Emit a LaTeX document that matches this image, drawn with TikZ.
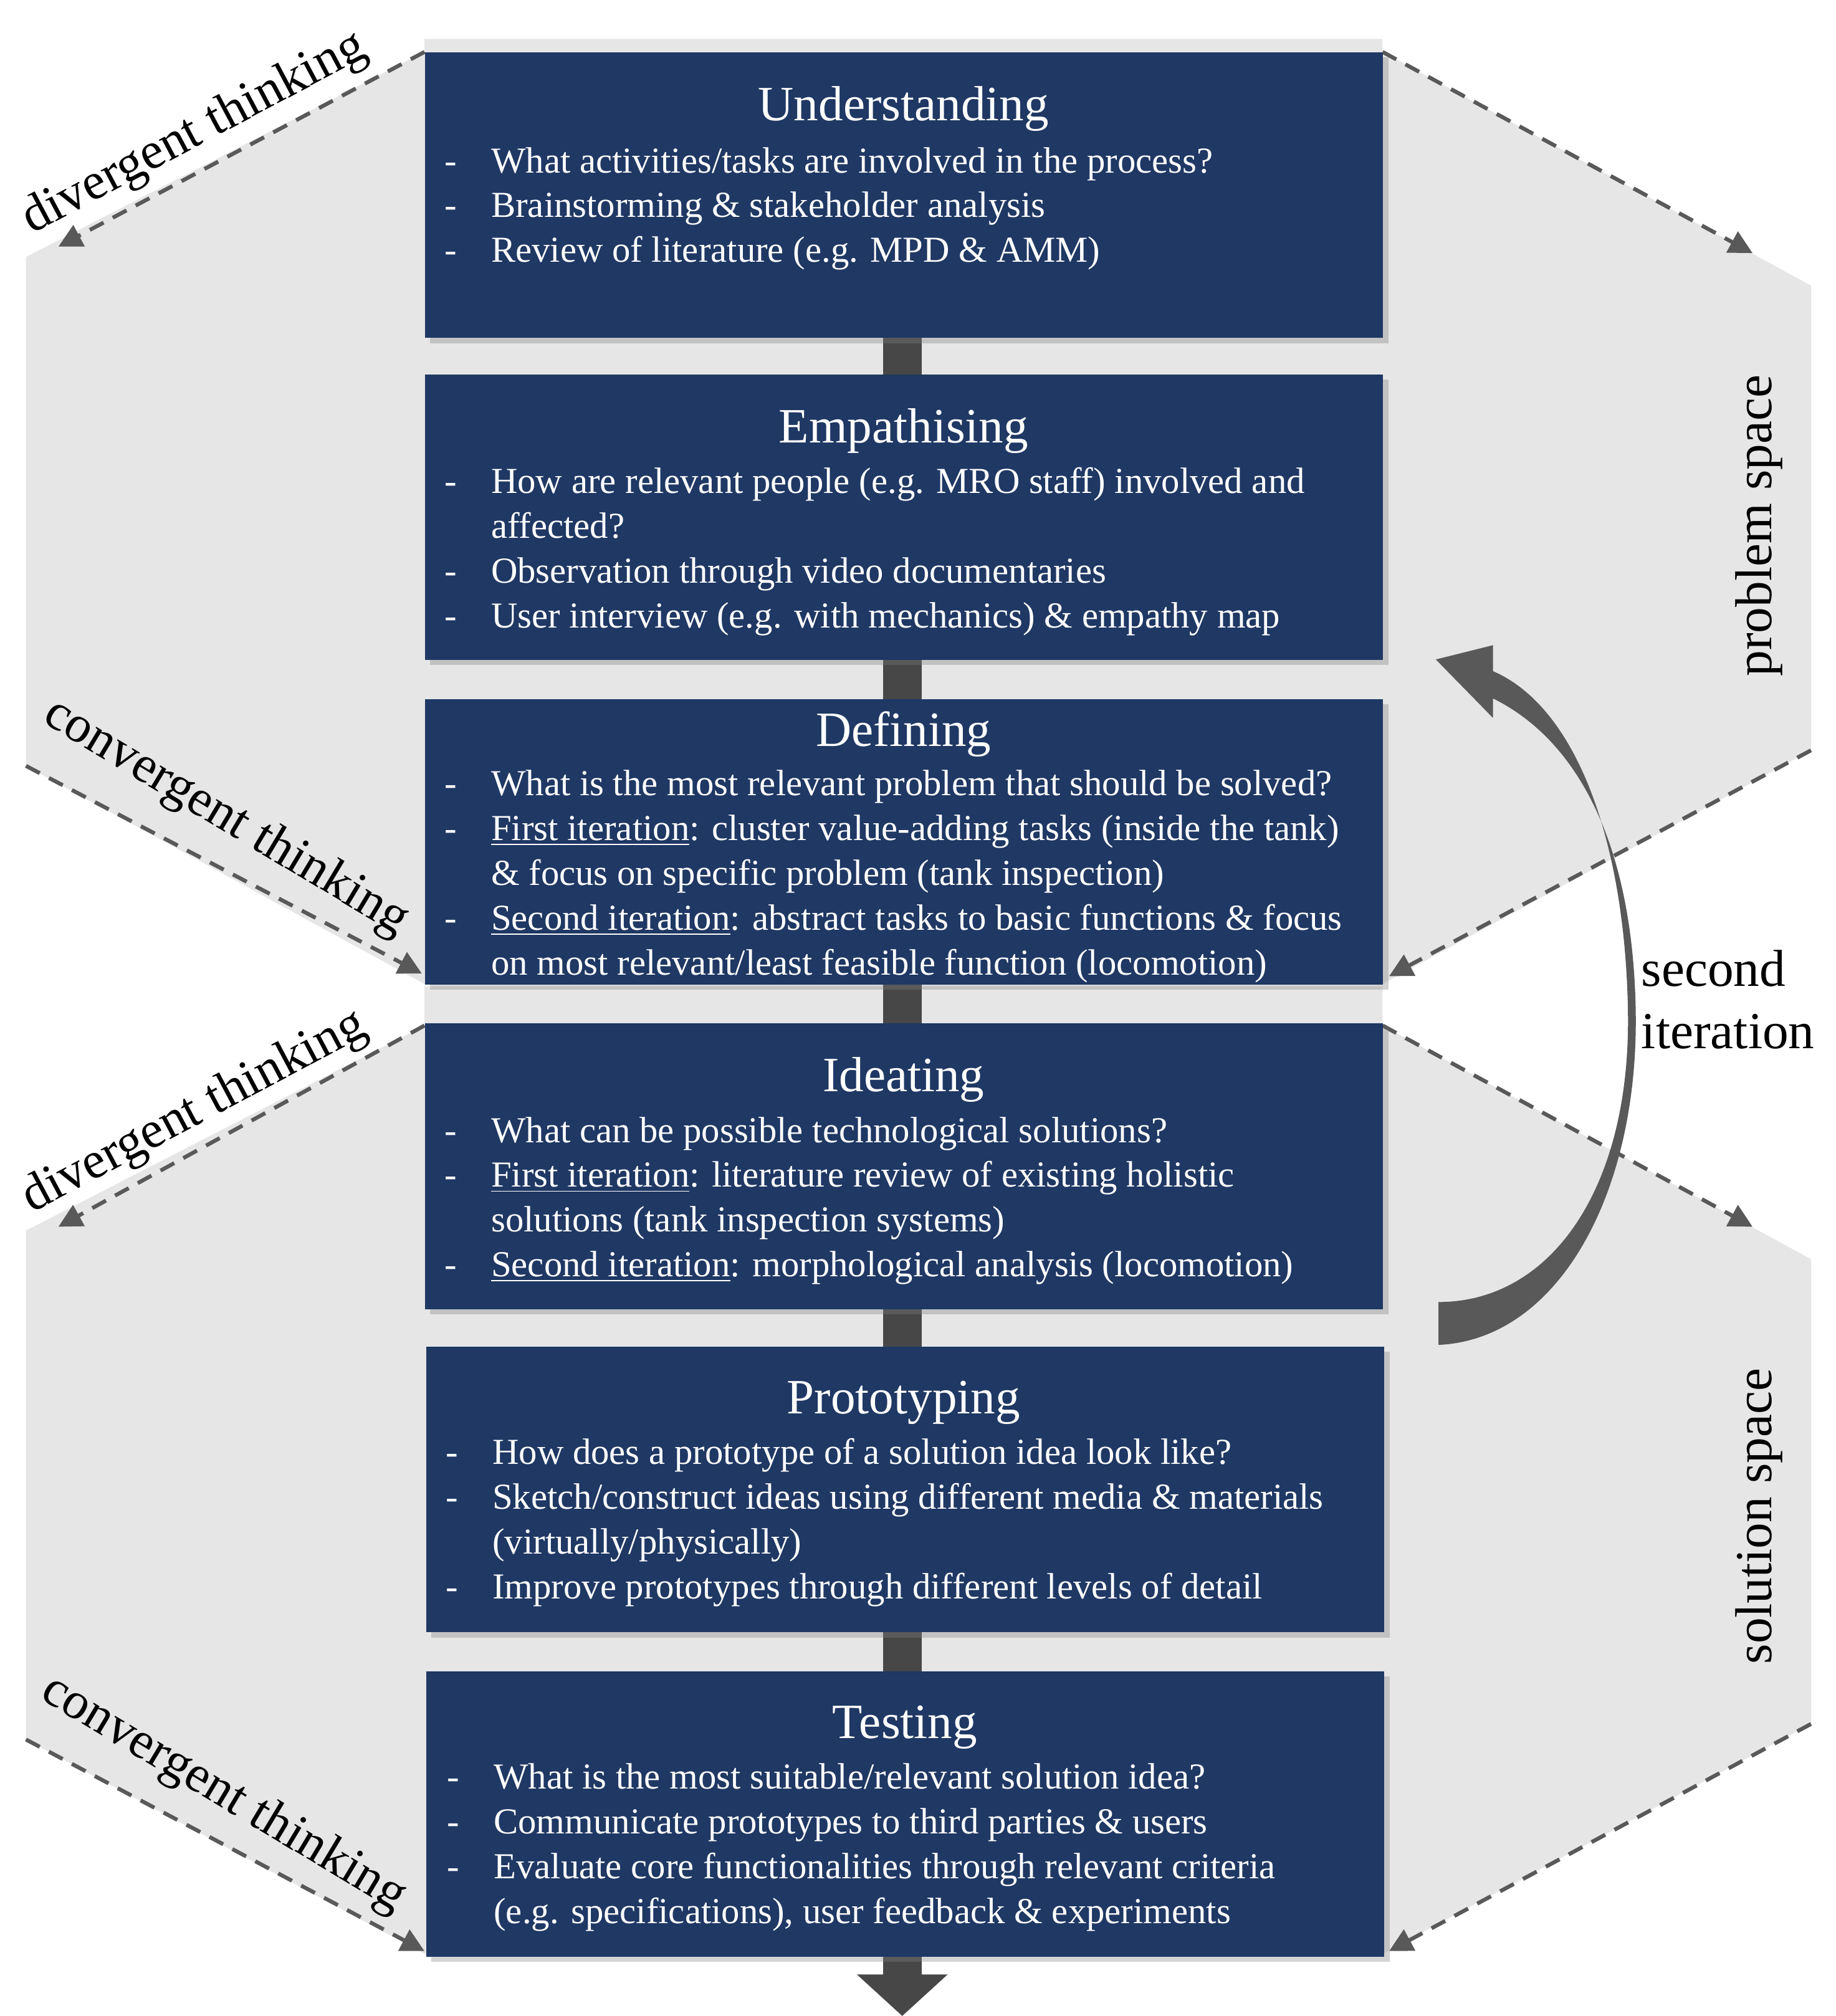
\documentclass[tikz,border=0pt]{standalone}
\usepackage{fontspec}
\setmainfont{Liberation Serif}
\usetikzlibrary{shadows,arrows.meta}
\definecolor{boxblue}{HTML}{1F3864}
\definecolor{bggrey}{HTML}{E6E6E6}
\definecolor{dgrey}{HTML}{595959}
\definecolor{bargrey}{HTML}{474747}
\newcommand{\bodyfont}{\fontsize{14.1}{17.25}\selectfont}
\begin{document}
\begin{tikzpicture}[x=0.5pt,y=-0.5pt,
  box/.style={fill=boxblue,draw=none,minimum width=369pt,minimum height=110pt,anchor=north west,inner sep=0,drop shadow={shadow xshift=2pt,shadow yshift=-2pt,opacity=0.35}},
  ttl/.style={text=white,anchor=base,font=\fontsize{19}{22}\selectfont,inner sep=0},
  body/.style={text=white,anchor=base west,font=\bodyfont,inner sep=0},
  dasharr/.style={draw=dgrey,line width=1.5pt,dash pattern=on 6pt off 4pt,-{Triangle[length=9pt,width=9pt]}},
  lab/.style={font=\fontsize{20}{22}\selectfont,inner sep=0},
  bar/.style={draw=bargrey,line width=15pt}]
\useasboundingbox (0,0) rectangle (1414,1553);
% grey regions
\fill[bggrey] (20,198) -- (327,40) -- (327,30) -- (1065,30) -- (1065,40) -- (1395,220) -- (1395,578) -- (1065,758) -- (327,758) -- (20,590) -- cycle;
\fill[bggrey] (20,948) -- (327,790) -- (327,760) -- (1065,760) -- (1065,790) -- (1395,970) -- (1395,1328) -- (1065,1505) -- (327,1505) -- (20,1340) -- cycle;
% dashed arrows
\coordinate (a1) at (327,40); \coordinate (a1e) at (45,190);
\coordinate (a2) at (1065,40); \coordinate (a2e) at (1350,195);
\coordinate (a3) at (20,590); \coordinate (a3e) at (325,750);
\coordinate (a4) at (1395,578); \coordinate (a4e) at (1070,752);
\coordinate (b1) at (327,790); \coordinate (b1e) at (45,945);
\coordinate (b2) at (1065,790); \coordinate (b2e) at (1350,945);
\coordinate (b3) at (20,1340); \coordinate (b3e) at (327,1503);
\coordinate (b4) at (1395,1328); \coordinate (b4e) at (1070,1503);
\foreach \s/\e in {a1/a1e,a2/a2e,a3/a3e,a4/a4e,b1/b1e,b2/b2e,b3/b3e,b4/b4e} \draw[dasharr] (\s) -- (\e);
% connector bars
\draw[bar] (695,255) -- (695,1290);
\coordinate (ae) at (695,1553);
\draw[bar,-{Triangle[length=16pt,width=34pt]}] (695,1500) -- (ae);
% boxes
\node[box] (u) at (327,40) {};
\node[box] (e) at (327,288) {};
\node[box] (d) at (327,538) {};
\node[box] (i) at (327,788) {};
\node[box] (p) at (328,1037) {};
\node[box] (t) at (328,1287) {};
% titles
\node[ttl] (ut) at (696,93) {Understanding};
\node[ttl] (et) at (696,341) {Empathising};
\node[ttl] (dt) at (696,575) {Defining};
\node[ttl] (it) at (696,841) {Ideating};
\node[ttl] (pt) at (696,1089) {Prototyping};
\node[ttl] (tt) at (697,1339) {Testing};
% bodies
\node[body] (ub) at (342,133) {\begin{tabular}[t]{@{}p{18pt}@{}l@{}}
- & What activities/tasks are involved in the process?\\
- & Brainstorming \& stakeholder analysis\\
- & Review of literature (e.g. MPD \& AMM)\end{tabular}};
\node[body] (eb) at (342,380) {\begin{tabular}[t]{@{}p{18pt}@{}l@{}}
- & How are relevant people (e.g. MRO staff) involved and\\
 & affected?\\
- & Observation through video documentaries\\
- & User interview (e.g. with mechanics) \& empathy map\end{tabular}};
\node[body] (db) at (342,613) {\begin{tabular}[t]{@{}p{18pt}@{}l@{}}
- & What is the most relevant problem that should be solved?\\
- & \underline{First iteration}: cluster value-adding tasks (inside the tank)\\
 & \& focus on specific problem (tank inspection)\\
- & \underline{Second iteration}: abstract tasks to basic functions \& focus\\
 & on most relevant/least feasible function (locomotion)\end{tabular}};
\node[body] (ib) at (342,880) {\begin{tabular}[t]{@{}p{18pt}@{}l@{}}
- & What can be possible technological solutions?\\
- & \underline{First iteration}: literature review of existing holistic\\
 & solutions (tank inspection systems)\\
- & \underline{Second iteration}: morphological analysis (locomotion)\end{tabular}};
\node[body] (pb) at (343,1128) {\begin{tabular}[t]{@{}p{18pt}@{}l@{}}
- & How does a prototype of a solution idea look like?\\
- & Sketch/construct ideas using different media \& materials\\
 & (virtually/physically)\\
- & Improve prototypes through different levels of detail\end{tabular}};
\node[body] (tb) at (344,1378) {\begin{tabular}[t]{@{}p{18pt}@{}l@{}}
- & What is the most suitable/relevant solution idea?\\
- & Communicate prototypes to third parties \& users\\
- & Evaluate core functionalities through relevant criteria\\
 & (e.g. specifications), user feedback \& experiments\end{tabular}};
% curved arrow
\fill[dgrey] (1108,1036) .. controls (1200,1032) and (1262,920) .. (1260,780)
  .. controls (1258,650) and (1215,570) .. (1150,538)
  -- (1150,553) -- (1106,508) -- (1150,497) -- (1150,517)
  .. controls (1215,545) and (1252,650) .. (1254,780)
  .. controls (1256,915) and (1195,1003) .. (1108,1003) -- cycle;
% labels
\node[lab,rotate=28] (l1) at (150,103) {divergent thinking};
\node[lab,rotate=-31] (l2) at (174,630) {convergent thinking};
\node[lab,rotate=28] (l3) at (150,857) {divergent thinking};
\node[lab,rotate=-31] (l4) at (172,1382) {convergent thinking};
\node[lab,rotate=90] (ps) at (1355,405) {problem space};
\node[lab,rotate=90] (ss) at (1355,1168) {solution space};
\node[lab,anchor=west,align=left,font=\fontsize{20}{24}\selectfont] (si) at (1264,770) {second\\iteration};
\end{tikzpicture}
\end{document}
